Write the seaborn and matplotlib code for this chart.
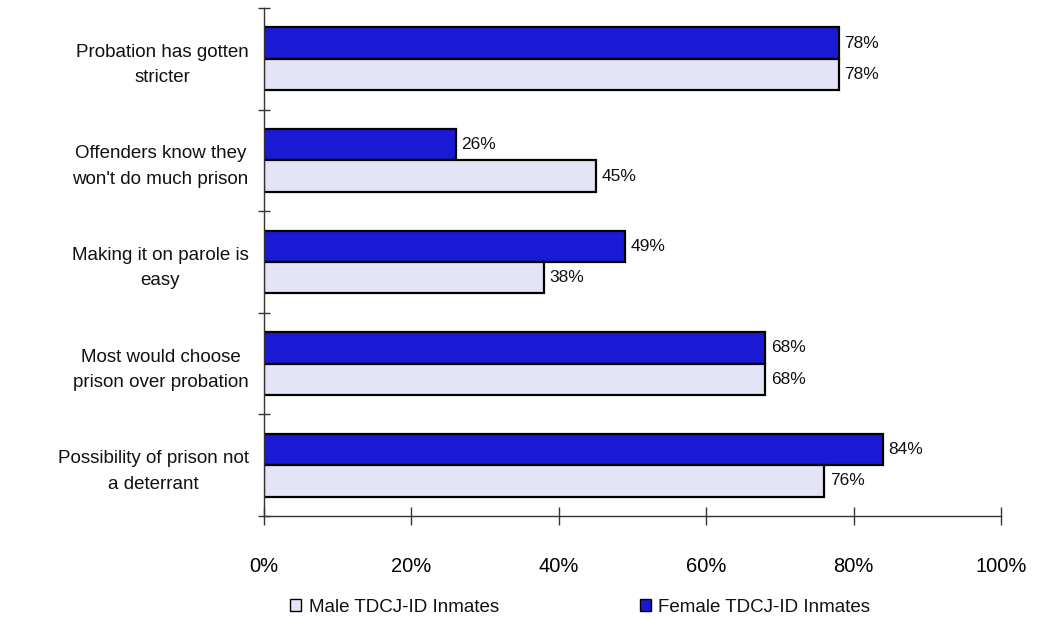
import matplotlib
matplotlib.use("Agg")
import matplotlib.pyplot as plt
import seaborn as sns
import pandas as pd
from matplotlib.patches import Patch

categories = [
    "Probation has gotten\nstricter",
    "Offenders know they\nwon't do much prison",
    "Making it on parole is\neasy",
    "Most would choose\nprison over probation",
    "Possibility of prison not\na deterrant",
]
female = [78, 26, 49, 68, 84]
male = [78, 45, 38, 68, 76]
series = ["Female TDCJ-ID Inmates", "Male TDCJ-ID Inmates"]
colors = {"Female TDCJ-ID Inmates": "#1a1ad4", "Male TDCJ-ID Inmates": "#e4e4f7"}
xticks = [0, 20, 40, 60, 80, 100]

sns.set_theme(style="white")
plt.rcParams['font.family'] = ['Liberation Sans', 'DejaVu Sans']

df = pd.DataFrame({
    "category": categories * 2,
    "value": female + male,
    "series": [series[0]] * 5 + [series[1]] * 5,
})

fig = plt.figure(figsize=(10.4, 6.19), dpi=100)
ax = fig.add_axes([264 / 1040, 1 - 516 / 619, (1001 - 264) / 1040, (516 - 8) / 619])

sns.barplot(data=df, y="category", x="value", hue="series", hue_order=series,
            palette=colors, orient="h", width=0.62, edgecolor="black",
            linewidth=1.6, ax=ax, legend=False, saturation=1)

for cont in ax.containers:
    ax.bar_label(cont, labels=[f"{int(round(v.get_width()))}%" for v in cont],
                 padding=4, fontsize=12.5, color="#111111")

ax.set_xlim(0, 100)
ax.set_ylim(4.5, -0.5)
ax.set_xticks(xticks)
ax.set_xticklabels([f"{t}%" for t in xticks], fontsize=14.5)
ax.tick_params(axis="x", bottom=True, direction="inout", length=13, width=1, pad=23,
               color="#333333", labelcolor="black")
ax.set_yticks(range(len(categories)))
ax.set_yticklabels(categories, fontsize=13.5, ha="right", multialignment="center",
                   linespacing=1.65, color="#111111")
ax.tick_params(axis="y", which="major", left=False, length=0, pad=11)
ax.set_yticks([i - 0.5 for i in range(len(categories) + 1)], minor=True)
ax.tick_params(axis="y", which="minor", left=True, direction="inout", length=9, width=1,
               color="#333333")
ax.set_xlabel("")
ax.set_ylabel("")
for s in ["top", "right"]:
    ax.spines[s].set_visible(False)
for s in ["left", "bottom"]:
    ax.spines[s].set_color("#333333")
    ax.spines[s].set_linewidth(1)

handles = [Patch(facecolor=colors[series[1]], edgecolor="black", label=series[1]),
           Patch(facecolor=colors[series[0]], edgecolor="black", label=series[0])]
fig.legend(handles=handles, loc="center", bbox_to_anchor=(0.558, 1 - 607 / 619), ncol=2,
           frameon=False, fontsize=13.5, handlelength=0.6, handleheight=0.6,
           handletextpad=0.4, columnspacing=7.5, labelcolor="#111111")

fig.savefig("out.png", dpi=100)
